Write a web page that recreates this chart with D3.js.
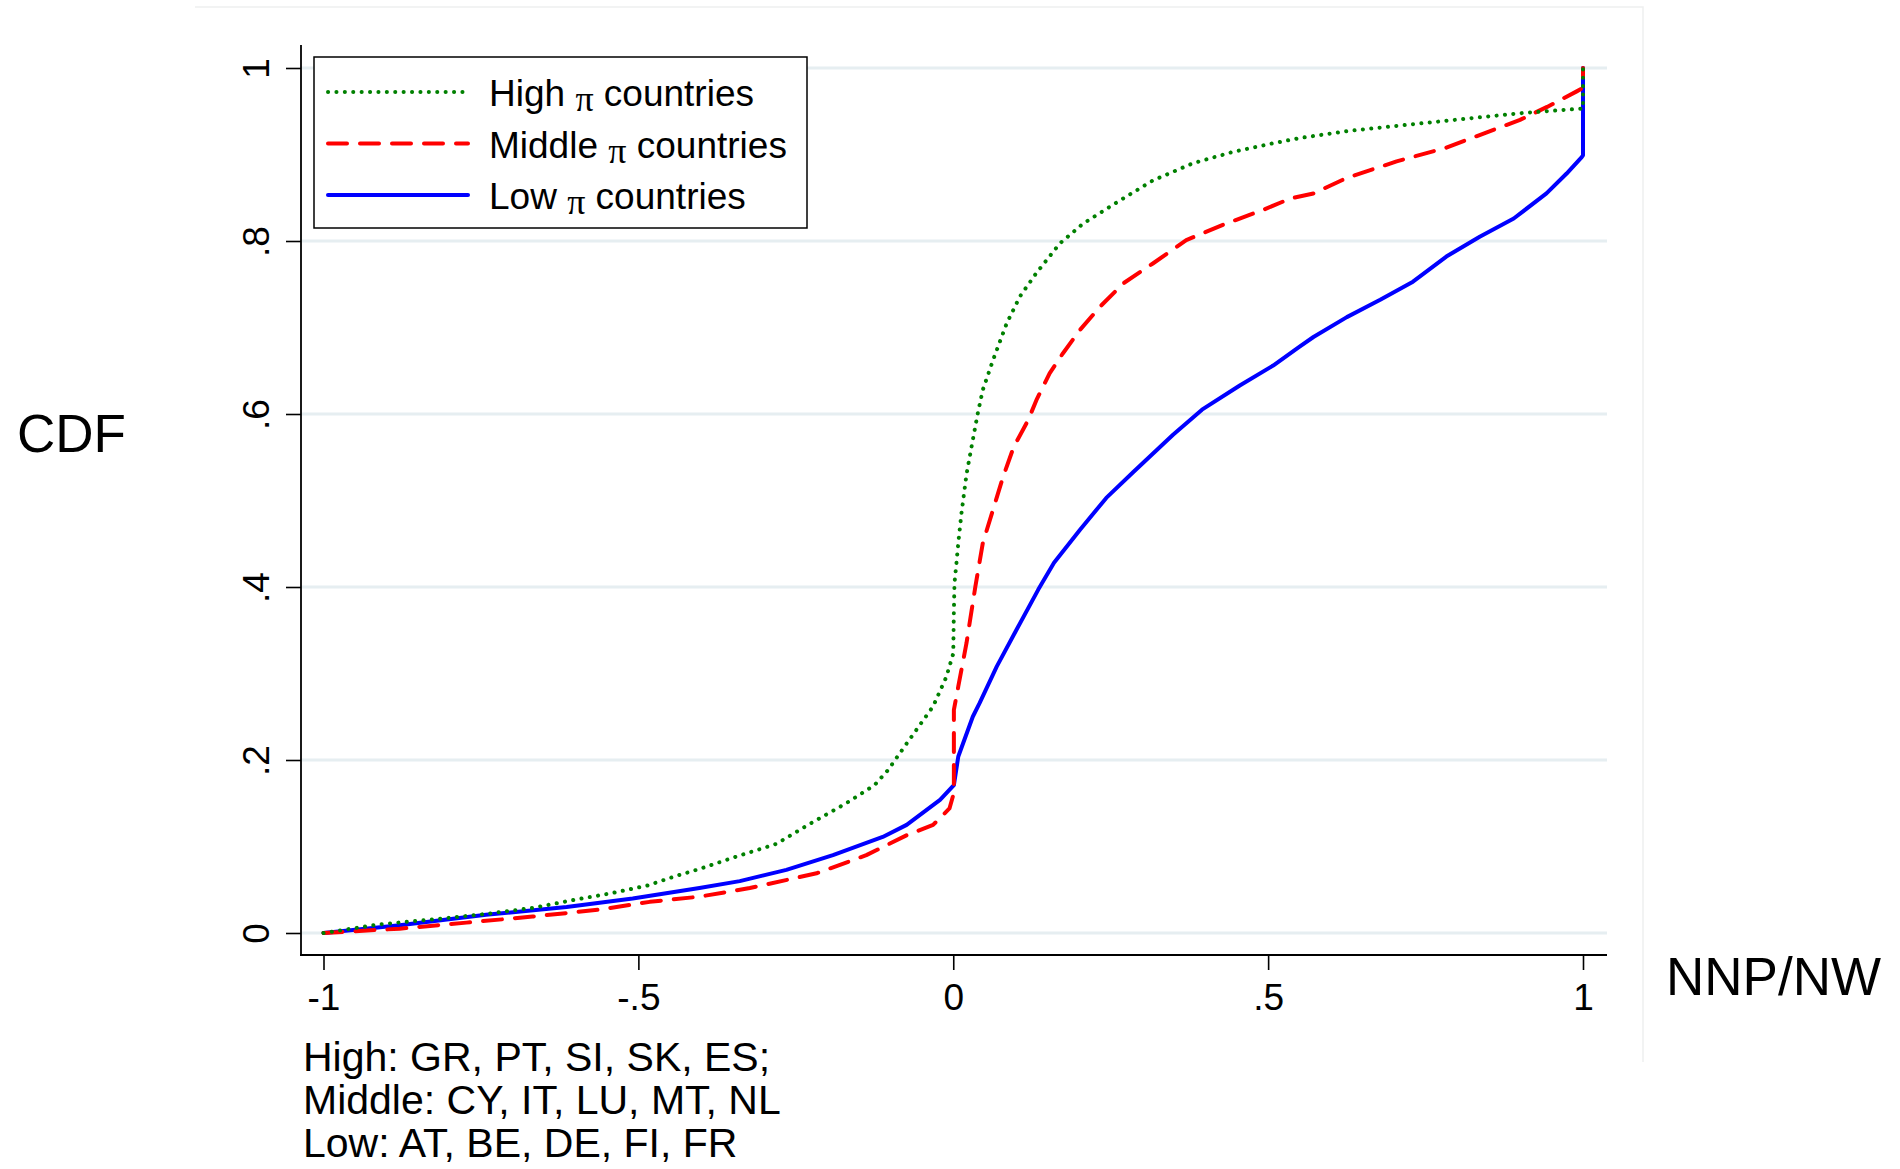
<!DOCTYPE html>
<html>
<head>
<meta charset="utf-8">
<script src="https://cdn.jsdelivr.net/npm/d3@7"></script>
<style>
  html, body { margin: 0; padding: 0; background: #fff; }
  svg text { font-family: "Liberation Sans", Arial, sans-serif; fill: #000; }
</style>
</head>
<body>
<div id="chart"></div>
<script>
// values: [NNP/NW, CDF]
const highCdf = [[-1,0],[-0.911,0.010],[-0.821,0.016],[-0.742,0.022],[-0.668,0.029],[-0.604,0.038],[-0.543,0.046],[-0.485,0.055],[-0.440,0.066],[-0.403,0.074],[-0.350,0.087],[-0.281,0.103],[-0.228,0.126],[-0.170,0.150],[-0.125,0.171],[-0.104,0.188],[-0.074,0.219],[-0.032,0.262],[-0.011,0.296],[0,0.323],[0.001,0.373],[0.002,0.405],[0.005,0.427],[0.008,0.451],[0.013,0.485],[0.021,0.530],[0.029,0.562],[0.039,0.601],[0.047,0.628],[0.063,0.662],[0.085,0.705],[0.106,0.736],[0.132,0.763],[0.169,0.797],[0.206,0.820],[0.265,0.847],[0.317,0.870],[0.381,0.890],[0.444,0.903],[0.508,0.913],[0.550,0.919],[0.625,0.927],[0.730,0.935],[0.836,0.943],[0.905,0.948],[0.995,0.953],[1,0.953],[1,1]]
const middleCdf = [[-1,0],[-0.879,0.005],[-0.773,0.012],[-0.668,0.019],[-0.562,0.027],[-0.482,0.036],[-0.403,0.042],[-0.323,0.052],[-0.217,0.069],[-0.138,0.090],[-0.074,0.113],[-0.032,0.125],[-0.006,0.144],[0.001,0.162],[0.001,0.258],[0.008,0.285],[0.021,0.335],[0.035,0.400],[0.047,0.451],[0.063,0.489],[0.079,0.527],[0.096,0.562],[0.119,0.593],[0.132,0.616],[0.153,0.647],[0.174,0.670],[0.201,0.697],[0.233,0.724],[0.270,0.751],[0.317,0.774],[0.370,0.801],[0.429,0.819],[0.492,0.836],[0.535,0.849],[0.572,0.855],[0.625,0.873],[0.704,0.892],[0.783,0.908],[0.863,0.930],[0.900,0.940],[0.943,0.955],[0.990,0.973],[1,0.977],[1,1]]
const lowCdf = [[-1,0],[-0.879,0.009],[-0.742,0.021],[-0.614,0.030],[-0.509,0.040],[-0.456,0.046],[-0.403,0.052],[-0.339,0.060],[-0.265,0.073],[-0.191,0.090],[-0.112,0.111],[-0.074,0.125],[-0.021,0.154],[0.001,0.171],[0.008,0.204],[0.031,0.250],[0.042,0.266],[0.069,0.308],[0.100,0.350],[0.135,0.397],[0.160,0.428],[0.201,0.466],[0.243,0.503],[0.286,0.533],[0.349,0.576],[0.395,0.605],[0.455,0.633],[0.508,0.656],[0.550,0.678],[0.572,0.689],[0.625,0.712],[0.678,0.732],[0.730,0.753],[0.783,0.782],[0.836,0.805],[0.890,0.826],[0.942,0.855],[0.974,0.878],[0.998,0.897],[1,0.899],[1,1]]

const seriesNames = ["High", "Middle", "Low"]
const xTicks = [-1, -0.5, 0, 0.5, 1]
const xTickLabels = ["-1", "-.5", "0", ".5", "1"]
const yTicks = [0, 0.2, 0.4, 0.6, 0.8, 1]
const yTickLabels = ["0", ".2", ".4", ".6", ".8", "1"]
const noteLines = ["High: GR, PT, SI, SK, ES;", "Middle: CY, IT, LU, MT, NL", "Low: AT, BE, DE, FI, FR"]

const W = 1900, H = 1169

const styles = {
  High:   { color: "#008000", dash: "0.1 8.3" },
  Middle: { color: "#ff0000", dash: "19 13" },
  Low:    { color: "#0000ff", dash: null }
}

const svg = d3.select("#chart").append("svg")
  .attr("width", W).attr("height", H)

const x = d3.scaleLinear().domain([-1, 1]).range([323.5, 1583])
const y = d3.scaleLinear().domain([0, 1]).range([933, 68])

const plotLeft = 301, plotRight = 1607, axisY = 955, axisTop = 45

// faint outer region border (top + right)
svg.append("path")
  .attr("d", `M195,7H1643V1062`)
  .attr("fill", "none").attr("stroke", "#eef0f0").attr("stroke-width", 1.5)

// grid
svg.append("g").selectAll("line").data(yTicks).enter().append("line")
  .attr("x1", plotLeft).attr("x2", plotRight)
  .attr("y1", d => y(d)).attr("y2", d => y(d))
  .style("stroke", "#e6eef1").style("stroke-width", 3)

// curves
const line = d3.line().x(d => x(d[0])).y(d => y(d[1]))
const data = { High: highCdf, Middle: middleCdf, Low: lowCdf }

svg.append("g").selectAll("path")
  .data(["Low", "Middle", "High"])
  .enter().append("path")
    .attr("d", k => line(data[k]))
    .style("fill", "none")
    .style("stroke", k => styles[k].color)
    .style("stroke-width", 4)
    .style("stroke-linecap", "round")
    .style("stroke-linejoin", "round")
    .style("stroke-dasharray", k => styles[k].dash)

// axes
const yAxis = d3.axisLeft(y).tickValues(yTicks).tickSize(15)
  .tickFormat((d, i) => yTickLabels[i])
const gy = svg.append("g").attr("transform", `translate(${plotLeft},0)`).call(yAxis)
gy.select(".domain").remove()
gy.selectAll(".tick line").attr("stroke", "#000").attr("stroke-width", 1.6)
gy.selectAll(".tick text")
  .attr("x", null).attr("dy", null)
  .attr("transform", "translate(-32,0) rotate(-90)")
  .attr("text-anchor", "middle")
  .style("font-size", "37px")
  .style("font-family", "'Liberation Sans', Arial, sans-serif")

const xAxis = d3.axisBottom(x).tickValues(xTicks).tickSize(15).tickPadding(8)
  .tickFormat((d, i) => xTickLabels[i])
const gx = svg.append("g").attr("transform", `translate(0,${axisY})`).call(xAxis)
gx.select(".domain").remove()
gx.selectAll(".tick line").attr("stroke", "#000").attr("stroke-width", 1.6)
gx.selectAll(".tick text")
  .attr("y", 55).attr("dy", null)
  .style("font-size", "37px")
  .style("font-family", "'Liberation Sans', Arial, sans-serif")

svg.append("line").attr("x1", plotLeft).attr("x2", plotLeft)
  .attr("y1", axisTop).attr("y2", axisY + 1)
  .style("stroke", "#000").style("stroke-width", 1.8)
svg.append("line").attr("x1", plotLeft - 1).attr("x2", plotRight)
  .attr("y1", axisY).attr("y2", axisY)
  .style("stroke", "#000").style("stroke-width", 1.8)

// axis titles
svg.append("text").attr("x", 17).attr("y", 452)
  .style("font-size", "53px").text("CDF")
svg.append("text").attr("x", 1666).attr("y", 995)
  .style("font-size", "53px").text("NNP/NW")

// legend
const lg = svg.append("g")
lg.append("rect").attr("x", 314).attr("y", 57).attr("width", 493).attr("height", 171)
  .style("fill", "#fff").style("stroke", "#000").style("stroke-width", 1.5)
const rows = lg.selectAll("g.row").data(seriesNames).enter().append("g")
  .attr("class", "row")
  .attr("transform", (d, i) => `translate(0,${[92, 143.5, 195][i]})`)
rows.append("line").attr("x1", 328).attr("x2", 468)
  .style("stroke", d => styles[d].color).style("stroke-width", 4)
  .style("stroke-linecap", "round")
  .style("stroke-dasharray", d => styles[d].dash)
const lt = rows.append("text").attr("x", 489).attr("y", 14).style("font-size", "37px")
lt.append("tspan").text(d => d + " ")
lt.append("tspan").attr("dy", 5)
  .style("font-family", "'Liberation Serif', 'Times New Roman', serif")
  .style("font-size", "36px").text("π")
lt.append("tspan").attr("dy", -5).text(" countries")

// note
svg.append("g").selectAll("text").data(noteLines).enter().append("text")
  .attr("x", 303).attr("y", (d, i) => 1071 + i * 43)
  .style("font-size", "41px").text(d => d)
</script>
</body>
</html>
